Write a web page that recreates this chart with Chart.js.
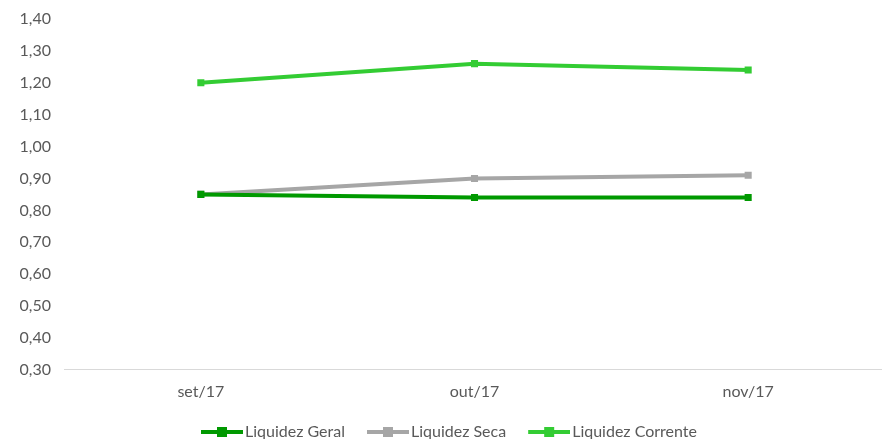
<!DOCTYPE html>
<html>
<head>
<meta charset="utf-8">
<script src="https://cdn.jsdelivr.net/npm/chart.js@4/dist/chart.umd.min.js"></script>
<style>
  html, body { margin: 0; padding: 0; background: #fff; overflow: hidden; }
  #wrap { width: 890px; height: 439px; position: relative; }
</style>
</head>
<body>
<div id="wrap"><canvas id="liquidez"></canvas></div>
<script>
var months = ["set/17", "out/17", "nov/17"];
var geral = [0.85, 0.84, 0.84];
var seca = [0.85, 0.90, 0.91];
var corrente = [1.20, 1.26, 1.24];

var darkGreen = "#009900";
var grey = "#A6A6A6";
var lightGreen = "#33CC33";

// line + square for the legend, blank space on the left keeps the items apart
function legendIcon(color) {
    var c = document.createElement("canvas");
    c.width = 70;
    c.height = 12;
    var g = c.getContext("2d");
    g.fillStyle = color;
    g.fillRect(28, 4, 42, 4);
    g.fillRect(44, 1, 10, 10);
    return c;
}

var ds = function (label, values, color) {
    return {
        label: label,
        data: values,
        borderColor: color,
        backgroundColor: color,
        borderWidth: 4,
        pointStyle: "rect",
        pointRadius: 5,
        pointHoverRadius: 5,
        pointBorderWidth: 0,
        tension: 0,
        icon: legendIcon(color)
    };
};

// nudge the legend a bit lower and to the left
var moveLegend = {
    id: "moveLegend",
    afterLayout: function (chart) {
        var l = chart.legend;
        l.top += 11; l.bottom += 11;
        l.left -= 6; l.right -= 6;
    }
};

Chart.defaults.font.family = "Lato, 'Open Sans', sans-serif";
Chart.defaults.font.size = 16;
Chart.defaults.color = "#595959";

var ctx = document.getElementById("liquidez").getContext("2d");
new Chart(ctx, {
    type: "line",
    data: {
        labels: months,
        datasets: [
            ds("Liquidez Geral", geral, darkGreen),
            ds("Liquidez Seca", seca, grey),
            ds("Liquidez Corrente", corrente, lightGreen)
        ]
    },
    plugins: [moveLegend],
    options: {
        responsive: true,
        maintainAspectRatio: false,
        animation: false,
        layout: { padding: { top: 19, left: 0, right: 2, bottom: 0 } },
        plugins: {
            tooltip: { enabled: false },
            legend: {
                position: "bottom",
                labels: {
                    usePointStyle: true,
                    pointStyleWidth: 58,
                    padding: 0,
                    generateLabels: function (chart) {
                        return chart.data.datasets.map(function (d, i) {
                            return {
                                text: d.label,
                                pointStyle: d.icon,
                                fillStyle: d.borderColor,
                                strokeStyle: d.borderColor,
                                lineWidth: 0,
                                fontColor: "#595959",
                                datasetIndex: i
                            };
                        });
                    }
                }
            }
        },
        scales: {
            x: {
                offset: true,
                grid: { display: false },
                border: { color: "#D9D9D9", width: 1 },
                ticks: { padding: 4 },
                afterFit: function (s) { s.height += 8; }
            },
            y: {
                min: 0.3,
                max: 1.4,
                grid: { display: false },
                border: { display: false },
                afterFit: function (s) { s.width = 64; },
                ticks: {
                    stepSize: 0.1,
                    padding: 5,
                    callback: function (v) { return v.toFixed(2).replace(".", ","); }
                }
            }
        }
    }
});
</script>
</body>
</html>
